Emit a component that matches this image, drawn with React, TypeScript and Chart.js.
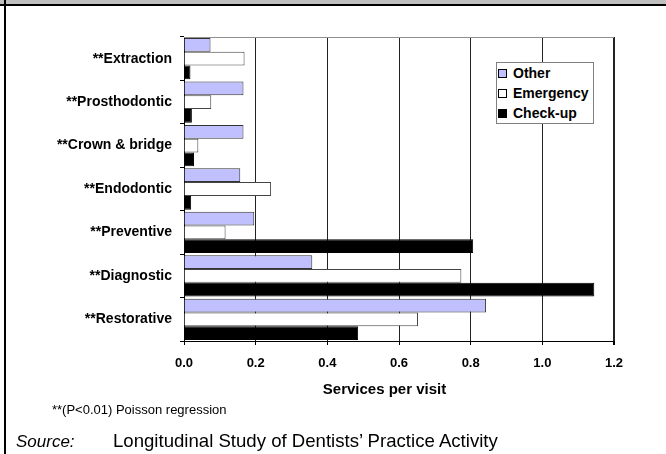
import { useEffect, useRef } from "react";
import { Chart, registerables } from "chart.js";

Chart.register(...registerables);

const categories = [
  "**Extraction",
  "**Prosthodontic",
  "**Crown & bridge",
  "**Endodontic",
  "**Preventive",
  "**Diagnostic",
  "**Restorative",
];
const seriesNames = ["Other", "Emergency", "Check-up"];
const otherValues = [0.074, 0.166, 0.166, 0.157, 0.196, 0.358, 0.843];
const emergencyValues = [0.169, 0.076, 0.04, 0.243, 0.116, 0.774, 0.653];
const checkupValues = [0.018, 0.022, 0.028, 0.02, 0.807, 1.145, 0.486];
const xTickMin = 0;
const xTickMax = 1.2;
const xTickStep = 0.2;

const seriesColors = ["#C0C0FF", "#FFFFFF", "#000000"];
const seriesBorders = ["#333333", "#444444", "#000000"];

const FONT = "'Liberation Sans', Arial, sans-serif";

const topLinePlugin = {
  id: "topLine",
  afterDraw(chart: any) {
    const { ctx, chartArea } = chart;
    ctx.save();
    ctx.strokeStyle = "#909090";
    ctx.lineWidth = 1;
    ctx.beginPath();
    ctx.moveTo(chartArea.left, Math.round(chartArea.top) + 0.5);
    ctx.lineTo(chartArea.right, Math.round(chartArea.top) + 0.5);
    ctx.stroke();
    ctx.restore();
  },
};

export default function App() {
  const ref = useRef<HTMLCanvasElement | null>(null);

  useEffect(() => {
    document.body.style.margin = "0";
    if (!ref.current) return;
    const values = [otherValues, emergencyValues, checkupValues];
    const chart = new Chart(ref.current, {
      type: "bar",
      data: {
        labels: categories,
        datasets: seriesNames.map((name, i) => ({
          label: name,
          data: values[i],
          backgroundColor: seriesColors[i],
          borderColor: seriesBorders[i],
          borderWidth: 1,
          categoryPercentage: 0.95,
          barPercentage: 1.0,
        })),
      },
      options: {
        indexAxis: "y",
        animation: false,
        responsive: false,
        layout: { padding: { top: 37, right: 52, left: 0, bottom: 0 } },
        plugins: {
          legend: { display: false },
          tooltip: { enabled: false },
        },
        scales: {
          x: {
            type: "linear",
            min: xTickMin,
            max: xTickMax,
            ticks: {
              stepSize: xTickStep,
              color: "#000",
              padding: 11,
              font: { family: FONT, size: 13, weight: "bold" },
              callback: (v: any) => Number(v).toFixed(1),
            },
            grid: {
              color: "#222",
              lineWidth: (ctx: any) =>
                ctx.tick && Math.abs(ctx.tick.value - xTickMax) < 1e-6 ? 2 : 1,
              tickLength: 4,
              tickColor: "#000",
            },
            border: { display: true, color: "#000", width: 1 },
            afterFit: (scale: any) => {
              scale.height = 113;
            },
          },
          y: {
            type: "category",
            ticks: {
              color: "#000",
              padding: 8,
              font: { family: FONT, size: 14, weight: "bold" },
            },
            grid: {
              drawOnChartArea: false,
              color: "#000",
              tickLength: 4,
              offset: true,
            },
            border: { display: true, color: "#000", width: 1 },
            afterFit: (scale: any) => {
              scale.width = 184;
            },
          },
        },
      },
      plugins: [topLinePlugin],
    });
    return () => chart.destroy();
  }, []);

  const legendRow = (i: number) => (
    <div
      key={i}
      style={{
        display: "flex",
        alignItems: "center",
        height: 20,
        whiteSpace: "nowrap",
      }}
    >
      <span
        style={{
          display: "inline-block",
          flex: "none",
          width: 7,
          height: 7,
          background: seriesColors[i],
          border: "1px solid #000",
          marginRight: 6,
        }}
      />
      <span>{seriesNames[i]}</span>
    </div>
  );

  return (
    <div
      style={{
        position: "relative",
        width: 666,
        height: 454,
        overflow: "hidden",
        background: "#fff",
        fontFamily: FONT,
      }}
    >
      <canvas
        ref={ref}
        width={666}
        height={454}
        style={{ position: "absolute", left: 0, top: 0, width: 666, height: 454 }}
      />
      {/* frame */}
      <div style={{ position: "absolute", left: 0, top: 0, width: 666, height: 4, background: "#c0c0c0" }} />
      <div style={{ position: "absolute", left: 0, top: 4, width: 666, height: 2, background: "#000" }} />
      <div style={{ position: "absolute", left: 4, top: 0, width: 2, height: 454, background: "#000" }} />
      {/* legend */}
      <div
        style={{
          position: "absolute",
          left: 496,
          top: 62,
          width: 98,
          height: 62,
          border: "1px solid #808080",
          background: "#fff",
          fontWeight: "bold",
          fontSize: 14,
          padding: "0 0 0 1px",
          boxSizing: "border-box",
          lineHeight: 1,
        }}
      >
        {[0, 1, 2].map(legendRow)}
      </div>
      {/* x axis title */}
      <div
        style={{
          position: "absolute",
          left: 384.5,
          top: 381,
          transform: "translateX(-50%)",
          fontSize: 15,
          fontWeight: "bold",
          lineHeight: 1,
          whiteSpace: "nowrap",
        }}
      >
        Services per visit
      </div>
      {/* footnote */}
      <div
        style={{
          position: "absolute",
          left: 52,
          top: 403,
          fontSize: 13,
          lineHeight: 1,
          whiteSpace: "nowrap",
        }}
      >
        **(P&lt;0.01) Poisson regression
      </div>
      {/* source */}
      <div
        style={{
          position: "absolute",
          left: 16,
          top: 433,
          fontSize: 17,
          lineHeight: 1,
          whiteSpace: "nowrap",
        }}
      >
        <i>Source:</i>
      </div>
      <div
        style={{
          position: "absolute",
          left: 113,
          top: 432,
          fontSize: 18.6,
          lineHeight: 1,
          whiteSpace: "nowrap",
        }}
      >
        Longitudinal Study of Dentists’ Practice Activity
      </div>
    </div>
  );
}
